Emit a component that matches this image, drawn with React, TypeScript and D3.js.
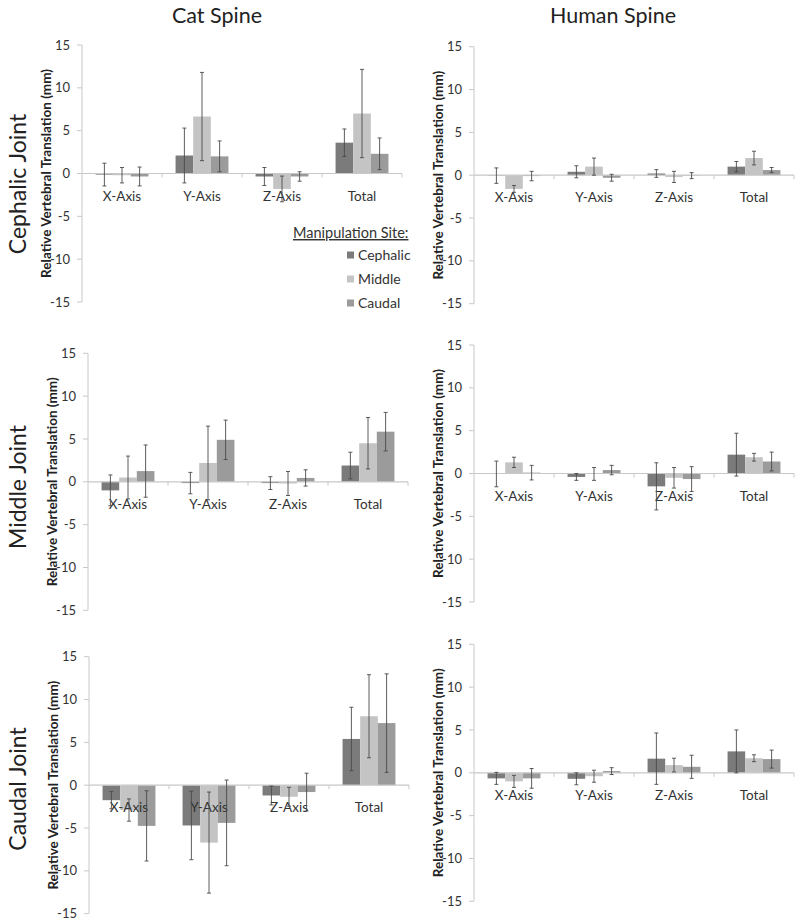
import React from "react";
import * as d3 from "d3";

const categories = ["X-Axis", "Y-Axis", "Z-Axis", "Total"];
const sites = ["Cephalic", "Middle", "Caudal"];
const siteColors = ["#7b7b7b", "#c4c4c4", "#9b9b9b"];
const yTicks = [15, 10, 5, 0, -5, -10, -15];
const columnTitles = ["Cat Spine", "Human Spine"];
const rowTitles = ["Cephalic Joint", "Middle Joint", "Caudal Joint"];
const yAxisTitle = "Relative Vertebral Translation (mm)";
const legendTitle = "Manipulation Site:";

// values per category (X, Y, Z, Total), each [Cephalic, Middle, Caudal]
const catCephalicMean = [[-0.13, -0.2, -0.35], [2.1, 6.65, 2.0], [-0.35, -1.8, -0.35], [3.6, 7.0, 2.3]];
const catCephalicErr = [[1.33, 0.9, 1.1], [3.2, 5.15, 1.8], [1.05, 1.5, 0.55], [1.6, 5.15, 1.85]];
const humanCephalicMean = [[-0.05, -1.6, -0.1], [0.4, 1.0, -0.3], [0.2, -0.2, -0.05], [1.0, 2.0, 0.6]];
const humanCephalicErr = [[0.9, 0.4, 0.55], [0.7, 1.0, 0.4], [0.45, 0.65, 0.35], [0.6, 0.8, 0.3]];
const catMiddleMean = [[-1.0, 0.5, 1.25], [-0.15, 2.2, 4.9], [-0.15, -0.2, 0.45], [1.9, 4.5, 5.85]];
const catMiddleErr = [[1.8, 2.5, 3.05], [1.25, 4.3, 2.3], [0.75, 1.4, 0.95], [1.55, 3.0, 2.25]];
const humanMiddleMean = [[-0.05, 1.3, 0.1], [-0.4, -0.05, 0.4], [-1.5, -0.5, -0.65], [2.2, 1.9, 1.4]];
const humanMiddleErr = [[1.5, 0.6, 0.85], [0.4, 0.75, 0.55], [2.75, 1.2, 1.45], [2.5, 0.45, 1.1]];
const catCaudalMean = [[-1.75, -2.9, -4.75], [-4.7, -6.7, -4.4], [-1.2, -1.35, -0.8], [5.4, 8.05, 7.25]];
const catCaudalErr = [[1.0, 1.3, 4.1], [4.0, 5.9, 5.0], [1.1, 1.1, 2.2], [3.7, 4.85, 5.75]];
const humanCaudalMean = [[-0.65, -1.0, -0.65], [-0.7, -0.4, 0.2], [1.65, 0.9, 0.7], [2.5, 1.7, 1.6]];
const humanCaudalErr = [[0.7, 0.7, 1.15], [0.7, 0.7, 0.4], [3.0, 0.8, 1.35], [2.5, 0.4, 1.05]];

const panelMeans = [
  [catCephalicMean, humanCephalicMean],
  [catMiddleMean, humanMiddleMean],
  [catCaudalMean, humanCaudalMean],
];
const panelErrs = [
  [catCephalicErr, humanCephalicErr],
  [catMiddleErr, humanMiddleErr],
  [catCaudalErr, humanCaudalErr],
];

// layout (pixels)
const panelX = [
  [82, 474],
  [88, 474],
  [89, 474],
];
const panelTop = [
  [45, 46.7],
  [353.3, 345],
  [656.7, 644.3],
];
const plotW = 320;
const plotH = 257;
const FONT = "Lato, 'Open Sans', sans-serif";

function Panel({ x0, top, means, errs }: any) {
  const x = d3.scaleBand<string>().domain(categories).range([x0, x0 + plotW]).paddingInner(0).paddingOuter(0);
  const xs = d3.scaleBand<string>().domain(sites).range([0, x.bandwidth()]).paddingInner(0).paddingOuter(0.77);
  const y = d3.scaleLinear().domain([-15, 15]).range([top + plotH, top]);
  const y0 = y(0);
  const axisColor = "#c8c8c8";
  return (
    <g>
      {/* y axis */}
      <line x1={x0} x2={x0} y1={y(15)} y2={y(-15)} stroke={axisColor} strokeWidth={1} />
      {yTicks.map((t) => (
        <g key={t}>
          <line x1={x0 - 5} x2={x0} y1={y(t)} y2={y(t)} stroke={axisColor} />
          <text x={x0 - 12} y={y(t)} dy="0.35em" textAnchor="end" fontSize={13} fill="#333" fontFamily={FONT}>
            {t}
          </text>
        </g>
      ))}
      <text
        transform={`translate(${x0 - 36},${y0}) rotate(-90)`}
        textAnchor="middle"
        dominantBaseline="central"
        fontSize={13.5}
        fontWeight="bold"
        fill="#222"
        fontFamily={FONT}
      >
        {yAxisTitle}
      </text>
      {/* bars */}
      {categories.map((c, ci) =>
        sites.map((s, si) => {
          const v = means[ci][si];
          const bx = (x(c) as number) + (xs(s) as number);
          return (
            <rect
              key={c + s}
              x={bx}
              y={Math.min(y(v), y0)}
              width={xs.bandwidth()}
              height={Math.abs(y(v) - y0)}
              fill={siteColors[si]}
            />
          );
        })
      )}
      {/* x axis */}
      <line x1={x0} x2={x0 + plotW} y1={y0} y2={y0} stroke={axisColor} strokeWidth={1.2} />
      {categories.map((c) => (
        <line key={"t" + c} x1={(x(c) as number) + x.bandwidth()} x2={(x(c) as number) + x.bandwidth()} y1={y0} y2={y0 + 4} stroke={axisColor} />
      ))}
      {categories.map((c) => (
        <text
          key={"l" + c}
          x={(x(c) as number) + x.bandwidth() / 2}
          y={y0 + 27}
          textAnchor="middle"
          fontSize={13.5}
          fill="#333"
          fontFamily={FONT}
        >
          {c}
        </text>
      ))}
      {/* error bars */}
      {categories.map((c, ci) =>
        sites.map((s, si) => {
          const v = means[ci][si];
          const e = errs[ci][si];
          const cx = (x(c) as number) + (xs(s) as number) + xs.bandwidth() / 2;
          return (
            <g key={"e" + c + s} stroke="#4a4a4a" strokeWidth={0.9}>
              <line x1={cx} x2={cx} y1={y(v + e)} y2={y(v - e)} />
              <line x1={cx - 2} x2={cx + 2} y1={y(v + e)} y2={y(v + e)} />
              <line x1={cx - 2} x2={cx + 2} y1={y(v - e)} y2={y(v - e)} />
            </g>
          );
        })
      )}
    </g>
  );
}

export default function App() {
  const titleX = [217, 613];
  const rowY = [184, 487, 789];
  const legX = 293;
  const legY = 238;
  return (
    <svg width={800} height={924} style={{ position: "absolute", left: 0, top: 0, background: "#fff" }}>
      <rect x={0} y={0} width={800} height={924} fill="#fff" />
      {columnTitles.map((t, i) => (
        <text key={t} x={titleX[i]} y={23} textAnchor="middle" fontSize={21.5} fill="#222" fontFamily={FONT}>
          {t}
        </text>
      ))}
      {rowTitles.map((t, i) => (
        <text
          key={t}
          transform={`translate(17,${rowY[i]}) rotate(-90)`}
          textAnchor="middle"
          dominantBaseline="central"
          fontSize={23}
          fill="#222"
          fontFamily={FONT}
        >
          {t}
        </text>
      ))}
      {panelMeans.map((row, ri) =>
        row.map((m, ci) => (
          <Panel key={ri + "-" + ci} x0={panelX[ri][ci]} top={panelTop[ri][ci]} means={m} errs={panelErrs[ri][ci]} />
        ))
      )}
      {/* legend */}
      <text x={legX} y={legY} fontSize={14.5} fill="#333" fontFamily={FONT} textDecoration="underline">
        {legendTitle}
      </text>
      {sites.map((s, i) => (
        <g key={s}>
          <rect x={347} y={251.5 + i * 24} width={7} height={7} fill={siteColors[i]} />
          <text x={358} y={255 + i * 24} dy="0.35em" fontSize={14} fill="#333" fontFamily={FONT}>
            {s}
          </text>
        </g>
      ))}
    </svg>
  );
}
